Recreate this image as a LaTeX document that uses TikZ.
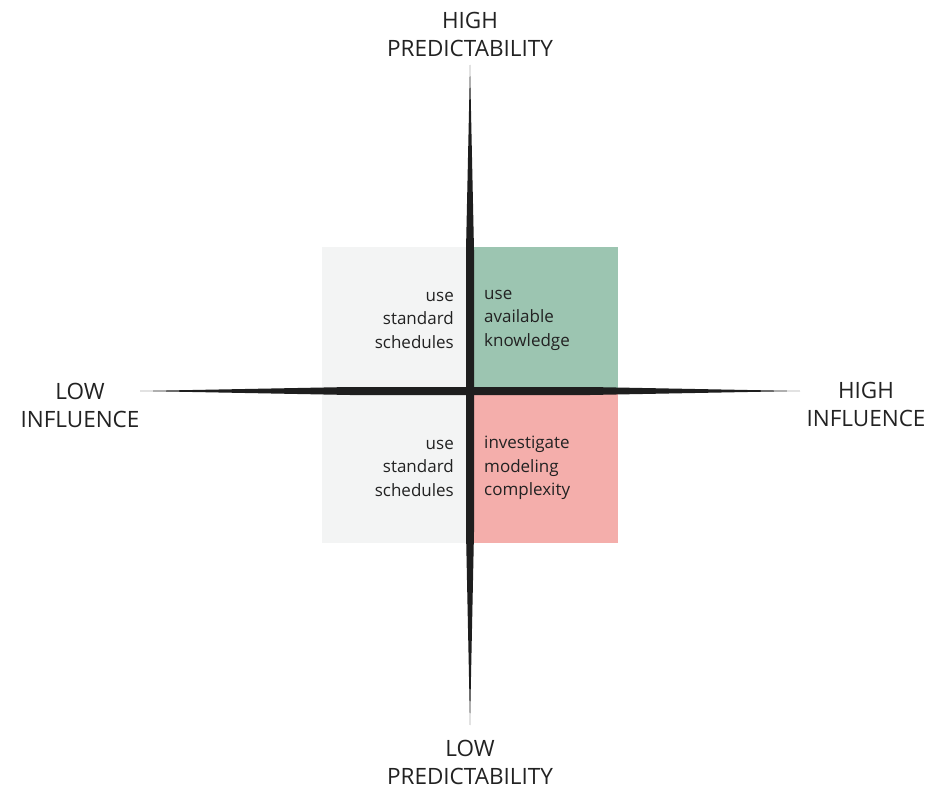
\documentclass[tikz,border=0pt]{standalone}
\usepackage{fontspec}
\setmainfont{Open Sans}
\definecolor{qgray}{HTML}{F3F4F4}
\definecolor{qgreen}{HTML}{9CC5B1}
\definecolor{qred}{HTML}{F4AEAB}
\definecolor{axis}{HTML}{1E1E1E}
\definecolor{txt}{HTML}{222222}
\begin{document}
\begin{tikzpicture}[x=1pt,y=-1pt,
  axlabel/.style={align=center,font=\fontsize{22.5}{28}\selectfont,text=txt,inner sep=0pt},
  qtext/.style={font=\fontsize{17}{23.5}\selectfont,text=txt,inner sep=0pt}]
\useasboundingbox (0,0) rectangle (927,789);
\fill[white] (0,0) rectangle (927,789);
% quadrants
\fill[qgray] (322,247) rectangle (470,543);
\fill[qgreen] (470,247) rectangle (618,391);
\fill[qred] (470,391) rectangle (618,543);
% tapered axes
\coordinate (c) at (470,391);
\fill[axis] (470,65) -- (474,250) -- (474,532) -- (470,725)
  -- (466,532) -- (466,250) -- cycle;
\fill[axis] (140,391) -- (350,387) -- (590,387) -- (800,391)
  -- (590,395) -- (350,395) -- cycle;
% axis labels
\node[axlabel] (hp) at (470,34) {HIGH\\PREDICTABILITY};
\node[axlabel] (lp) at (470,762) {LOW\\PREDICTABILITY};
\node[axlabel] (li) at (80,405) {LOW\\INFLUENCE};
\node[axlabel] (hi) at (866,404) {HIGH\\INFLUENCE};
% quadrant texts
\node[qtext,anchor=east,align=right] (tl) at (454,320) {use\\standard\\schedules};
\node[qtext,anchor=west,align=left] (tr) at (484,320) {use\\available\\knowledge};
\node[qtext,anchor=east,align=right] (bl) at (454,468) {use\\standard\\schedules};
\node[qtext,anchor=west,align=left] (br) at (484,468) {investigate\\modeling\\complexity};
\end{tikzpicture}
\end{document}
